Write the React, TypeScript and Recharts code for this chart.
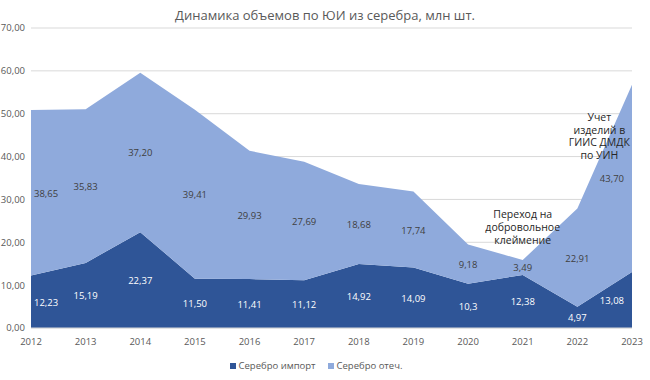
import { AreaChart, Area, XAxis, YAxis, CartesianGrid, Legend, Line, LabelList, ReferenceDot } from "recharts";

const years = ["2012", "2013", "2014", "2015", "2016", "2017", "2018", "2019", "2020", "2021", "2022", "2023"];
const importVals = [12.23, 15.19, 22.37, 11.5, 11.41, 11.12, 14.92, 14.09, 10.3, 12.38, 4.97, 13.08];
const domesticVals = [38.65, 35.83, 37.2, 39.41, 29.93, 27.69, 18.68, 17.74, 9.18, 3.49, 22.91, 43.7];
const importLabels = ["12,23", "15,19", "22,37", "11,50", "11,41", "11,12", "14,92", "14,09", "10,3", "12,38", "4,97", "13,08"];
const domesticLabels = ["38,65", "35,83", "37,20", "39,41", "29,93", "27,69", "18,68", "17,74", "9,18", "3,49", "22,91", "43,70"];
const yTicks = [0, 10, 20, 30, 40, 50, 60, 70];

const DARK = "#2f5597";
const LIGHT = "#8faadc";
const FONT = "'Open Sans', 'Noto Sans', sans-serif";

const data = years.map((year, i) => ({
  year,
  imp: importVals[i],
  dom: domesticVals[i],
  impMid: importVals[i] / 2,
  domMid: importVals[i] + domesticVals[i] / 2,
}));

const last = years.length - 1;

function makeLabel(labels: string[], color: string) {
  return (props: any) => {
    const { x, y, index } = props;
    let anchor: "start" | "middle" | "end" = "middle";
    let dx = 0;
    if (index === 0) {
      anchor = "start";
      dx = 3;
    } else if (index === last) {
      anchor = "end";
      dx = -8;
    }
    return (
      <text x={x + dx} y={y} dy={4} textAnchor={anchor} fontSize={9.5} fill={color} fontFamily={FONT}>
        {labels[index]}
      </text>
    );
  };
}

function noteLabel(lines: string[], dx: number) {
  return (props: any) => {
    const { viewBox } = props;
    const cx = viewBox.x + viewBox.width / 2 + dx;
    const cy = viewBox.y + viewBox.height / 2;
    return (
      <text textAnchor="middle" fontSize={10.5} fill="#262626" fontFamily={FONT}>
        {lines.map((l, i) => (
          <tspan key={i} x={cx} y={cy + (i - (lines.length - 1) / 2) * 12.8 + 4}>
            {l}
          </tspan>
        ))}
      </text>
    );
  };
}

function LegendContent() {
  const items = [
    { name: "Серебро импорт", color: DARK },
    { name: "Серебро отеч.", color: LIGHT },
  ];
  return (
    <div
      style={{
        display: "flex",
        justifyContent: "center",
        gap: 12,
        paddingTop: 9,
        fontFamily: FONT,
        fontSize: 9.5,
        color: "#595959",
      }}
    >
      {items.map((it) => (
        <span key={it.name} style={{ display: "flex", alignItems: "center" }}>
          <span style={{ width: 6, height: 6, background: it.color, marginRight: 3, display: "inline-block" }} />
          {it.name}
        </span>
      ))}
    </div>
  );
}

export default function App() {
  return (
    <div style={{ position: "absolute", left: 0, top: 0, width: 650, height: 380, background: "#fff" }}>
      <div
        style={{
          position: "absolute",
          top: 6,
          left: 0,
          width: 650,
          textAlign: "center",
          fontFamily: FONT,
          fontSize: 13,
          color: "#595959",
        }}
      >
        Динамика объемов по ЮИ из серебра, млн шт.
      </div>
      <AreaChart width={650} height={380} data={data} margin={{ top: 28, right: 18, left: 0, bottom: 0 }}>
        <CartesianGrid vertical={false} stroke="#d9d9d9" />
        <XAxis
          dataKey="year"
          tick={{ fontSize: 9.5, fill: "#595959", fontFamily: FONT }}
          axisLine={{ stroke: "#d9d9d9" }}
          tickLine={false}
          height={22}
          tickMargin={4}
        />
        <YAxis
          domain={[0, 70]}
          ticks={yTicks}
          width={31}
          tick={{ fontSize: 9.5, fill: "#595959", fontFamily: FONT }}
          tickFormatter={(v: number) => v.toFixed(2).replace(".", ",")}
          axisLine={false}
          tickLine={false}
          tickMargin={0}
        />
        <Legend
          verticalAlign="bottom"
          content={<LegendContent />}
          wrapperStyle={{ height: 30, overflow: "visible", boxSizing: "border-box" }}
        />
        <Area
          type="linear"
          dataKey="imp"
          name="Серебро импорт"
          stackId="a"
          stroke="none"
          fill={DARK}
          fillOpacity={1}
          isAnimationActive={false}
        />
        <Area
          type="linear"
          dataKey="dom"
          name="Серебро отеч."
          stackId="a"
          stroke="none"
          fill={LIGHT}
          fillOpacity={1}
          isAnimationActive={false}
        />
        <Line dataKey="impMid" stroke="none" dot={false} activeDot={false} legendType="none" isAnimationActive={false}>
          <LabelList dataKey="impMid" content={makeLabel(importLabels, "#ffffff")} />
        </Line>
        <Line dataKey="domMid" stroke="none" dot={false} activeDot={false} legendType="none" isAnimationActive={false}>
          <LabelList dataKey="domMid" content={makeLabel(domesticLabels, "#404040")} />
        </Line>
        <ReferenceDot x="2021" y={23.6} r={0} fill="none" stroke="none" label={noteLabel(["Переход на", "добровольное", "клеймение"], 0)} />
        <ReferenceDot x="2022" y={44.8} r={0} fill="none" stroke="none" label={noteLabel(["Учет", "изделий в", "ГИИС ДМДК", "по УИН"], 22)} />
      </AreaChart>
    </div>
  );
}
